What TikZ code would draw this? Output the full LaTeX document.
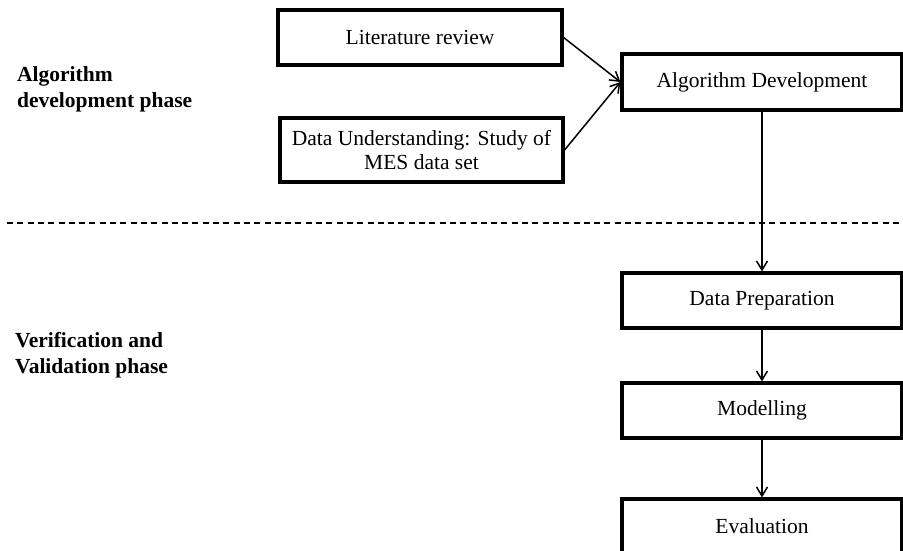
\documentclass[tikz,border=0pt]{standalone}
\usepackage{fontspec}
\setmainfont{Liberation Serif}
\usetikzlibrary{arrows.meta}
\begin{document}
\begin{tikzpicture}[x=1pt,y=1pt,
  box/.style={draw, line width=3.2pt, minimum width=280pt, inner sep=0pt, align=center, font=\fontsize{21.5}{24}\selectfont},
  conn/.style={line width=1.5pt, -{Straight Barb[length=9pt,width=11pt,line width=1.5pt]}},
  phase/.style={font=\fontsize{21.5}{26}\selectfont\bfseries, align=left, anchor=base west, inner sep=0pt},
  sep/.style={line width=1.7pt, dash pattern=on 6pt off 4.3pt}]
\useasboundingbox (0,0) rectangle (903,-551);
\clip (0,0) rectangle (903,-551);
\node[box, minimum width=284pt, minimum height=55pt] (lit) at (420,-37.5) {Literature review};
\node[box, minimum width=283pt, minimum height=64pt] (du) at (421.5,-150) {Data Understanding: Study of\\MES data set};
\node[box, minimum height=56pt] (alg) at (762,-82) {Algorithm Development};
\node[box, minimum height=55pt] (prep) at (762,-300.5) {Data Preparation};
\node[box, minimum height=55pt] (mod) at (762,-410.5) {Modelling};
\node[box, minimum height=55pt] (eval) at (762,-526.5) {Evaluation};
\draw[conn] (lit.east) -- (alg.west);
\draw[conn] (du.east) -- (alg.west);
\draw[conn] (alg.south) -- (prep.north);
\draw[conn] (prep.south) -- (mod.north);
\draw[conn] (mod.south) -- (eval.north);
\coordinate (dl) at (7,-223);
\coordinate (dr) at (903,-223);
\draw[sep] (dl) -- (dr);
\node[phase] (p1) at (17,-107) {Algorithm\\development phase};
\node[phase] (p2) at (15,-373) {Verification and\\Validation phase};
\end{tikzpicture}
\end{document}
